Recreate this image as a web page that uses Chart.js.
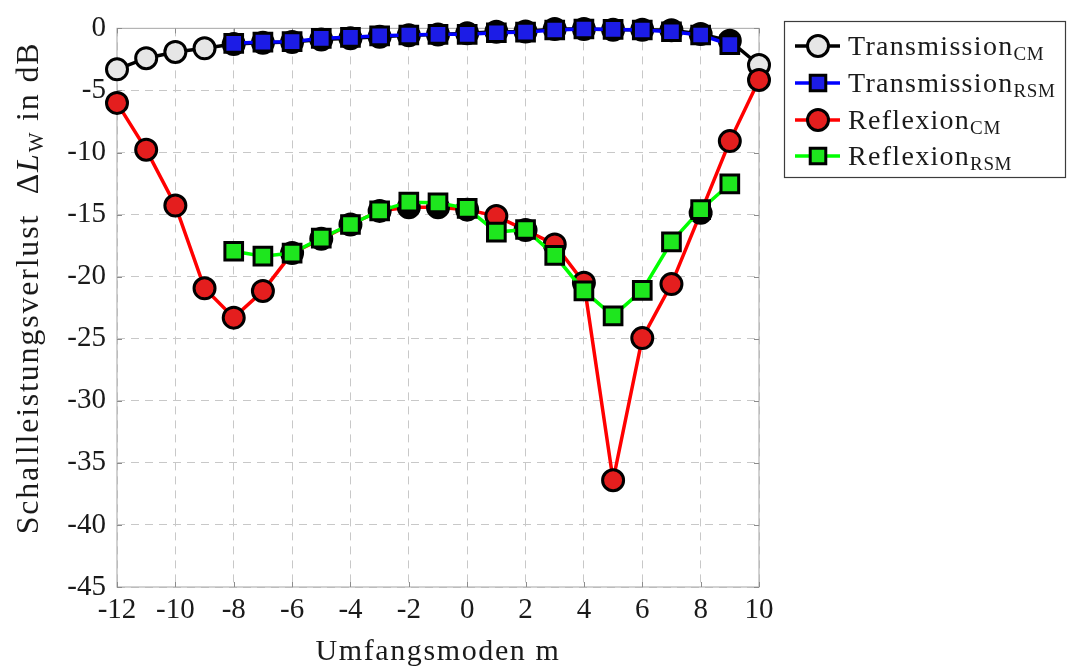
<!DOCTYPE html>
<html>
<head>
<meta charset="utf-8">
<script src="https://cdn.jsdelivr.net/npm/chart.js@4.4.1/dist/chart.umd.min.js"></script>
<style>
  html, body { margin: 0; padding: 0; background: #fff; }
  #wrap { position: relative; width: 1067px; height: 667px; }
</style>
</head>
<body>
<div id="wrap"><canvas id="c" width="1067" height="667"></canvas></div>
<script>
// Circumferential mode orders
const modesCM = [-12, -11, -10, -9, -8, -7, -6, -5, -4, -3, -2, -1, 0, 1, 2, 3, 4, 5, 6, 7, 8, 9, 10];
const modesRSM = [-8, -7, -6, -5, -4, -3, -2, -1, 0, 1, 2, 3, 4, 5, 6, 7, 8, 9];

// Sound power loss in dB
const transmissionCM = [-3.3, -2.4, -1.9, -1.6, -1.25, -1.15, -1.1, -0.9, -0.8, -0.67, -0.55, -0.5,
  -0.4, -0.27, -0.25, -0.05, -0.05, -0.1, -0.1, -0.15, -0.45, -1.0, -2.95];
const transmissionRSM = [-1.2, -1.1, -1.07, -0.8, -0.72, -0.6, -0.53, -0.48,
  -0.48, -0.35, -0.3, -0.13, -0.05, -0.08, -0.13, -0.27, -0.53, -1.3];
const reflexionCM = [-6.0, -9.77, -14.27, -20.94, -23.3, -21.15, -18.1, -16.95, -15.8, -14.7, -14.4, -14.4,
  -14.6, -15.12, -16.25, -17.4, -20.48, -36.4, -24.95, -20.6, -14.86, -9.08, -4.15];
const reflexionRSM = [-17.95, -18.35, -18.1, -16.9, -15.8, -14.7, -14.0, -14.05,
  -14.5, -16.41, -16.2, -18.28, -21.15, -23.16, -21.1, -17.2, -14.6, -12.53];

// Axis ticks
const xTicks = [-12, -10, -8, -6, -4, -2, 0, 2, 4, 6, 8, 10];
const yTicks = [0, -5, -10, -15, -20, -25, -30, -35, -40, -45];

// Legend text: main part + subscript
const seriesNames = ['Transmission', 'Transmission', 'Reflexion', 'Reflexion'];
const seriesSubs = ['CM', 'RSM', 'CM', 'RSM'];

const FONT = '"Liberation Serif", "DejaVu Serif", serif';
const INK = '#1a1a1a';

const pairs = (xs, ys) => xs.map((x, i) => ({ x: x, y: ys[i] }));

// Circles that sit under a square of the companion series appear dark
function circleFill(fill, xs, ys) {
  return ctx => {
    const p = ctx.raw;
    if (!p) return fill;
    const k = xs.indexOf(p.x);
    return (k >= 0 && Math.abs(ys[k] - p.y) < 0.5) ? '#000' : fill;
  };
}

function makeSet(label, xs, ys, line, fill, style, radius, order, pointFill) {
  return {
    label: label,
    data: pairs(xs, ys),
    borderColor: line,
    backgroundColor: fill,
    fillColor: fill,
    borderWidth: 3.5,
    pointStyle: style,
    pointRadius: radius,
    pointHoverRadius: radius,
    pointBackgroundColor: pointFill || fill,
    pointBorderColor: '#000',
    pointBorderWidth: 3,
    tension: 0,
    clip: false,
    order: order
  };
}

const datasets = [
  makeSet('Transmission CM', modesCM, transmissionCM, '#000000', '#e6e6e6', 'circle', 10.5, 3,
    circleFill('#e6e6e6', modesRSM, transmissionRSM)),
  makeSet('Transmission RSM', modesRSM, transmissionRSM, '#0000ff', '#1c1ce6', 'rect', 12.5, 2),
  makeSet('Reflexion CM', modesCM, reflexionCM, '#ff0000', '#e41e1e', 'circle', 10.5, 1,
    circleFill('#e41e1e', modesRSM, reflexionRSM)),
  makeSet('Reflexion RSM', modesRSM, reflexionRSM, '#00ff00', '#1ee61e', 'rect', 12.5, 0)
];

// Frame around the plot area with inward tick marks
const framePlugin = {
  id: 'frame',
  beforeDatasetsDraw(chart) {
    const { ctx, chartArea: a, scales } = chart;
    ctx.save();
    ctx.strokeStyle = '#b4b4b4';
    ctx.lineWidth = 1.2;
    ctx.strokeRect(a.left, a.top, a.right - a.left, a.bottom - a.top);
    ctx.strokeStyle = '#8c8c8c';
    ctx.lineWidth = 1;
    const t = 5;
    ctx.beginPath();
    xTicks.forEach(v => {
      const px = Math.round(scales.x.getPixelForValue(v)) + 0.5;
      ctx.moveTo(px, a.bottom); ctx.lineTo(px, a.bottom - t);
      ctx.moveTo(px, a.top); ctx.lineTo(px, a.top + t);
    });
    yTicks.forEach(v => {
      const py = Math.round(scales.y.getPixelForValue(v)) + 0.5;
      ctx.moveTo(a.left, py); ctx.lineTo(a.left + t, py);
      ctx.moveTo(a.right, py); ctx.lineTo(a.right - t, py);
    });
    ctx.stroke();
    ctx.restore();
  }
};

// Axis titles (with italic symbol and subscript) and the legend box
const textPlugin = {
  id: 'texts',
  afterDraw(chart) {
    const ctx = chart.ctx;
    const a = chart.chartArea;
    ctx.save();
    ctx.fillStyle = INK;
    ctx.textBaseline = 'alphabetic';

    // x title
    ctx.letterSpacing = '1.6px';
    ctx.font = '30px ' + FONT;
    ctx.textAlign = 'center';
    ctx.fillText('Umfangsmoden m', (a.left + a.right) / 2, 660);
    ctx.textAlign = 'left';

    // y title
    ctx.letterSpacing = '1.8px';
    const parts = [
      { t: 'Schallleistungsverlust  \u0394', f: '32px ' + FONT, dy: 0 },
      { t: 'L', f: 'italic 32px ' + FONT, dy: 0 },
      { t: 'W', f: '21px ' + FONT, dy: 5 },
      { t: ' in dB', f: '32px ' + FONT, dy: 0 }
    ];
    let total = 0;
    parts.forEach(p => { ctx.font = p.f; p.w = ctx.measureText(p.t).width; total += p.w; });
    ctx.translate(38, 288);
    ctx.rotate(-Math.PI / 2);
    let x = -total / 2;
    parts.forEach(p => { ctx.font = p.f; ctx.fillText(p.t, x, p.dy); x += p.w; });
    ctx.setTransform(1, 0, 0, 1, 0, 0);

    // legend
    const box = { l: 784.5, t: 21.5, r: 1065.5, b: 177.5 };
    ctx.fillStyle = '#fff';
    ctx.fillRect(box.l, box.t, box.r - box.l, box.b - box.t);
    ctx.strokeStyle = '#3c3c3c';
    ctx.lineWidth = 1.2;
    ctx.strokeRect(box.l, box.t, box.r - box.l, box.b - box.t);
    const rows = [46, 83, 120, 156];
    chart.data.datasets.forEach((ds, i) => {
      const y = rows[i];
      ctx.strokeStyle = ds.borderColor;
      ctx.lineWidth = 3.5;
      ctx.beginPath();
      ctx.moveTo(795, y); ctx.lineTo(840, y);
      ctx.stroke();
      ctx.fillStyle = ds.fillColor;
      ctx.strokeStyle = '#000';
      ctx.lineWidth = 3;
      Chart.helpers.drawPoint(ctx, {
        pointStyle: ds.pointStyle,
        radius: ds.pointStyle === 'circle' ? 10.5 : 11,
        rotation: 0,
        borderWidth: 3
      }, 818, y);
      ctx.fillStyle = INK;
      ctx.letterSpacing = '1.3px';
      ctx.font = '28px ' + FONT;
      const base = y + 9;
      ctx.fillText(seriesNames[i], 848, base);
      const w = ctx.measureText(seriesNames[i]).width;
      ctx.letterSpacing = '0.6px';
      ctx.font = '19px ' + FONT;
      ctx.fillText(seriesSubs[i], 848 + w, base + 5);
    });
    ctx.letterSpacing = '0px';
    ctx.restore();
  }
};

new Chart(document.getElementById('c'), {
  type: 'line',
  data: { datasets: datasets },
  options: {
    responsive: false,
    animation: false,
    events: [],
    layout: { padding: { left: 0, right: 308, top: 25, bottom: 0 } },
    plugins: { legend: { display: false }, tooltip: { enabled: false } },
    scales: {
      x: {
        type: 'linear',
        min: -12, max: 10,
        afterFit(scale) { scale.height = 80; },
        afterBuildTicks(scale) { scale.ticks = xTicks.map(v => ({ value: v })); },
        ticks: {
          padding: 6,
          color: INK,
          font: { family: FONT, size: 29 },
          maxRotation: 0,
          callback: v => String(v)
        },
        grid: { color: '#c8c8c8', lineWidth: 1, drawTicks: false },
        border: { display: false, dash: [8, 6] }
      },
      y: {
        type: 'linear',
        min: -45, max: 0,
        afterFit(scale) { scale.width = 117; },
        afterBuildTicks(scale) { scale.ticks = yTicks.map(v => ({ value: v })); },
        ticks: {
          padding: 11,
          color: INK,
          font: { family: FONT, size: 29 },
          callback: v => String(v)
        },
        grid: { color: '#c8c8c8', lineWidth: 1, drawTicks: false },
        border: { display: false, dash: [8, 6] }
      }
    }
  },
  plugins: [framePlugin, textPlugin]
});
</script>
</body>
</html>
